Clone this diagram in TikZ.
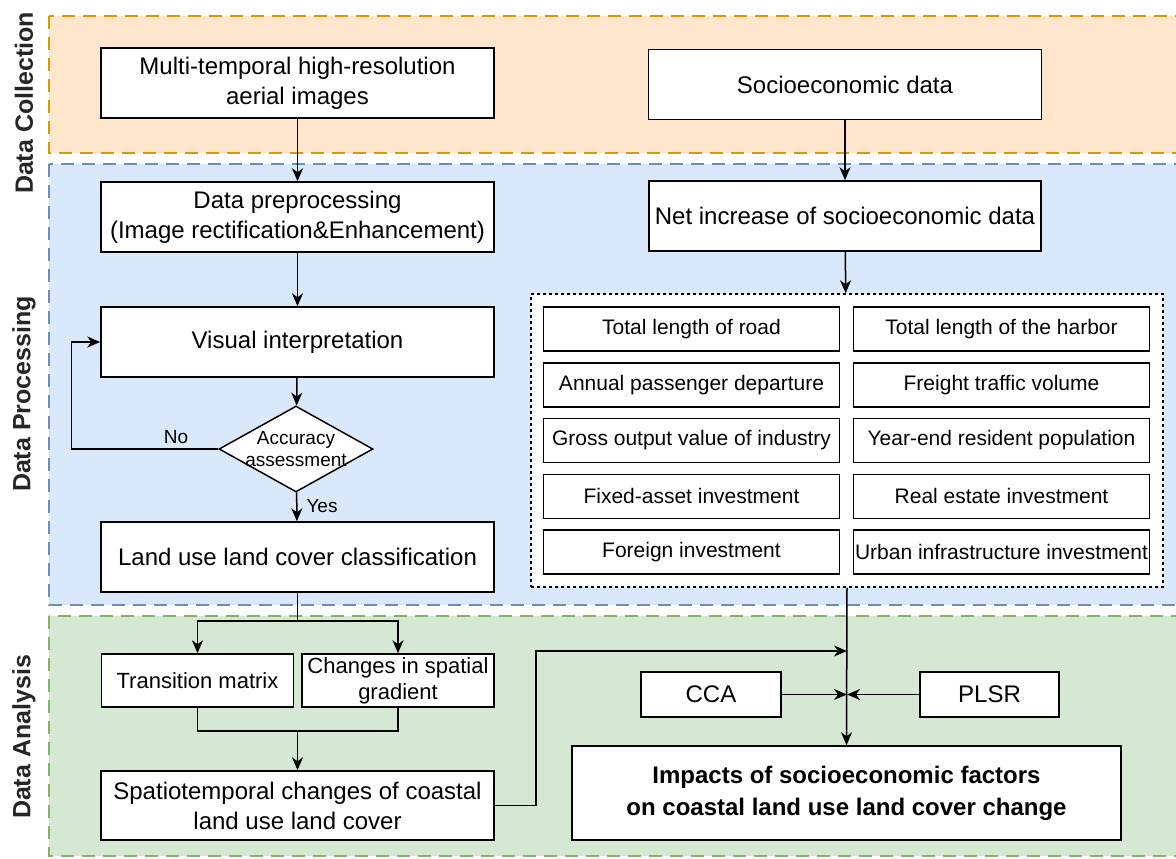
\documentclass[tikz,border=0pt]{standalone}
\usepackage{fontspec}
\setmainfont{Liberation Sans}
\usetikzlibrary{shapes.geometric,arrows.meta}
\definecolor{orfill}{HTML}{FFE6CC}
\definecolor{ordraw}{HTML}{D79B00}
\definecolor{blfill}{HTML}{DAE8FC}
\definecolor{bldraw}{HTML}{6C8EBF}
\definecolor{grfill}{HTML}{D5E8D4}
\definecolor{grdraw}{HTML}{82B366}
\begin{document}
\begin{tikzpicture}[x=1pt,y=-1pt,line width=1.5pt]
\tikzset{ >={Stealth[length=13pt,width=11pt,inset=4pt]},
  box/.style={draw, fill=white, inner sep=0pt, align=center, minimum width=393pt, minimum height=70pt, font=\fontsize{24}{30}\selectfont},
  fbox/.style={draw, fill=white, inner sep=0pt, align=center, minimum width=296pt, minimum height=44pt, font=\fontsize{21}{25}\selectfont},
  sbox/.style={draw, fill=white, inner sep=0pt, align=center, minimum width=192pt, minimum height=53pt, font=\fontsize{22}{26}\selectfont},
  lane/.style={rotate=90, font=\fontsize{25}{30}\selectfont\bfseries, text=black!85},
  band/.style={dash pattern=on 13pt off 8pt, line width=1.3pt},
}
\useasboundingbox (0,0) rectangle (1176,859);
%\draw [lightgray, dashed](0,0) grid [step=50] (1176,859);

\filldraw [band, fill=orfill, draw=ordraw] (49,16)  rectangle (1185,153);
\filldraw [band, fill=blfill, draw=bldraw] (49,164) rectangle (1185,605);
\filldraw [band, fill=grfill, draw=grdraw] (49,616) rectangle (1185,856);

\node [lane] (DC) at (24,103) {Data Collection};
\node [lane] (DP) at (24,394) {Data Processing};
\node [lane] (DA) at (24,737) {Data Analysis};

\node [box] (MI) at (297.5,83)  {Multi-temporal high-resolution\\aerial images};
\node [box] (SD) at (845,84.5)  {Socioeconomic data};
\node [box] (PP) at (297.5,217) {Data preprocessing\\(Image rectification\&Enhancement)};
\node [box, minimum width=392pt] (NI) at (845,216) {Net increase of socioeconomic data};
\node [box] (VI) at (297.5,342) {Visual interpretation};
\node [draw, fill=white, diamond, minimum width=154pt, minimum height=86pt, inner sep=0pt,
       label={[align=center, font=\fontsize{19}{22}\selectfont]center:Accuracy\\assessment}] (AA) at (296,449) {};
\node [box] (LU) at (297.5,557) {Land use land cover classification};
\node [sbox] (TM) at (197.5,680.5) {Transition matrix};
\node [sbox] (CS) at (398,680.5)   {Changes in spatial\\gradient};
\node [box, minimum height=69pt] (ST) at (297.5,805.5) {Spatiotemporal changes of coastal\\land use land cover};

\node [draw, fill=white, dashed, minimum width=632pt, minimum height=293pt] (FB) at (847,440.5) {};
\foreach \i/\l/\r in {0/Total length of road/Total length of the harbor,
                      1/Annual passenger departure/Freight traffic volume,
                      2/Gross output value of industry/Year-end resident population,
                      3/Fixed-asset investment/Real estate investment,
                      4/Foreign investment/Urban infrastructure investment}
{
  \node [fbox] (FL\i) at (691.5,{329+55.75*\i}) {\l};
  \node [fbox] (FR\i) at (1001.5,{329+55.75*\i}) {\r};
}

\node [draw, fill=white, minimum width=140pt, minimum height=45pt, font=\fontsize{24}{30}\selectfont] (CCA) at (711,694.5) {CCA};
\node [draw, fill=white, minimum width=139pt, minimum height=45pt, font=\fontsize{24}{30}\selectfont] (PLSR) at (989.5,694.5) {PLSR};
\node [box, minimum width=549pt, minimum height=94pt, font=\fontsize{24}{32}\selectfont\bfseries] (IM) at (846.5,793)
      {Impacts of socioeconomic factors\\on coastal land use land cover change};

\coordinate (J1) at (847,651);
\coordinate (J2) at (847,694.5);
\coordinate (SP) at (297.5,621);
\coordinate (MG) at (297.5,731);

\draw [->] (MI) -- (PP);
\draw [->] (SD) -- (NI);
\draw [->] (PP) -- (VI);
\draw [->] (NI) -- (FB);
\draw [->] (VI) -- (AA);
\draw [->] (AA.west) -- ++(-147,0) |- (VI.west);
\draw [->] (AA) -- (LU);

\node [font=\fontsize{19}{22}\selectfont] (NO)  at (176,437) {No};
\node [font=\fontsize{19}{22}\selectfont] (YES) at (322,506) {Yes};

\draw      (LU) -- (SP);
\draw [->] (SP) -| (TM.north);
\draw [->] (SP) -| (CS.north);
\draw      (TM.south) |- (MG) -| (CS.south);
\draw [->] (MG) -- (ST);

\draw [->] (ST.east) -- ++(41,0) |- (J1);
\draw [->] (FB.south) -- (IM.north);
\draw [->] (CCA) -- (J2);
\draw [->] (PLSR) -- (J2);

\end{tikzpicture}
\end{document}
